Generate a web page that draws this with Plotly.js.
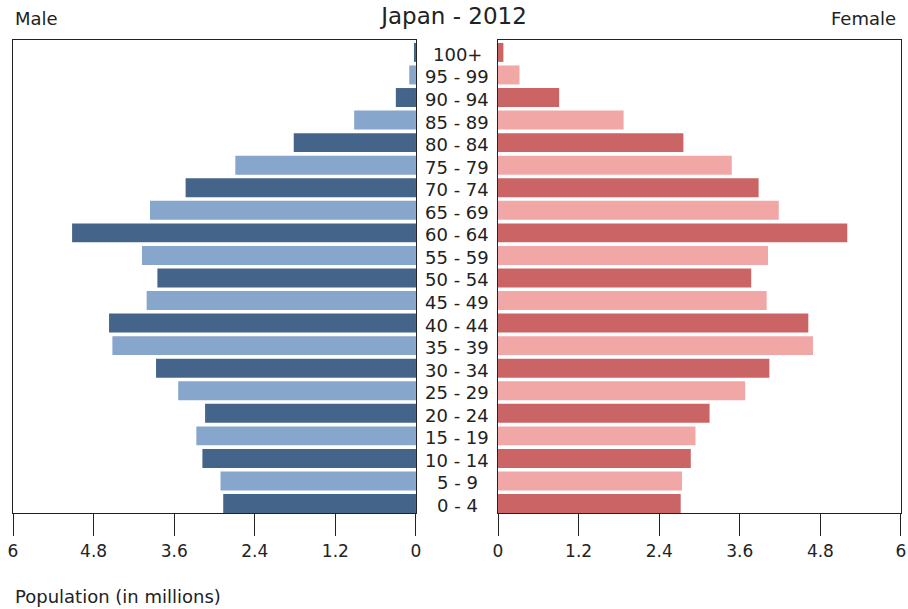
<!DOCTYPE html>
<html>
<head>
<meta charset="utf-8">
<script src="https://cdn.plot.ly/plotly-3.0.1.min.js"></script>
<style>html,body{margin:0;padding:0;background:#fff;}#chart{width:908px;height:609px;}</style>
</head>
<body>
<div id="chart"></div>
<script>
const ageGroups = ["0 - 4","5 - 9","10 - 14","15 - 19","20 - 24","25 - 29","30 - 34","35 - 39","40 - 44","45 - 49","50 - 54","55 - 59","60 - 64","65 - 69","70 - 74","75 - 79","80 - 84","85 - 89","90 - 94","95 - 99","100+"];
const maleValues = [2.87,2.91,3.18,3.27,3.14,3.54,3.87,4.52,4.57,4.01,3.85,4.08,5.12,3.96,3.43,2.69,1.82,0.92,0.30,0.10,0.03];
const femaleValues = [2.72,2.74,2.87,2.94,3.15,3.68,4.04,4.69,4.62,4.00,3.77,4.02,5.20,4.18,3.88,3.48,2.76,1.87,0.91,0.32,0.08];
const tickVals = [0,1.2,2.4,3.6,4.8,6];
const tickText = ["0","1.2","2.4","3.6","4.8","6"];

const maleColors = ageGroups.map((_, i) => i % 2 === 0 ? "#446489" : "#86a6cc");
const femaleColors = ageGroups.map((_, i) => i % 2 === 0 ? "#cb6464" : "#f2a7a7");

const font = "DejaVu Sans, sans-serif";
const txt = "#222";

const traces = [
  {type:"bar", orientation:"h", y:ageGroups, x:maleValues, xaxis:"x", yaxis:"y",
   marker:{color:maleColors}, hoverinfo:"x+y", showlegend:false},
  {type:"bar", orientation:"h", y:ageGroups, x:femaleValues, xaxis:"x2", yaxis:"y2",
   marker:{color:femaleColors}, hoverinfo:"x+y", showlegend:false}
];

const axisCommon = {
  tickvals: tickVals, ticktext: tickText, ticks:"outside", ticklen:22, tickwidth:1, tickcolor:txt,
  showline:true, linecolor:txt, linewidth:1.2, mirror:true, showgrid:false, zeroline:false,
  tickfont:{family:font, size:17, color:txt}, fixedrange:true
};
const yCommon = {
  type:"category", categoryorder:"array", categoryarray:ageGroups, range:[-0.42,20.55],
  showticklabels:false, ticks:"", showgrid:false, zeroline:false,
  showline:true, linecolor:txt, linewidth:1.2, mirror:true, fixedrange:true
};

const annotations = ageGroups.map(a => ({
  text:a, x:0.5, xref:"paper", y:a, yref:"y", xanchor:"center", yanchor:"middle", yshift:-2,
  showarrow:false, font:{family:font, size:18, color:txt}
}));
annotations.push(
  {text:"Male", x:0, xref:"paper", y:1, yref:"paper", xanchor:"left", yanchor:"middle", yshift:22,
   showarrow:false, font:{family:font, size:18, color:txt}},
  {text:"Female", x:1, xref:"paper", y:1, yref:"paper", xanchor:"right", yanchor:"middle", yshift:22, xshift:-3,
   showarrow:false, font:{family:font, size:18, color:txt}},
  {text:"Population (in millions)", x:0, xref:"paper", y:0, yref:"paper", xanchor:"left", yanchor:"middle", yshift:-83,
   showarrow:false, font:{family:font, size:18, color:txt}}
);

const layout = {
  width:908, height:609,
  margin:{l:13, r:7, t:40, b:96},
  paper_bgcolor:"#fff", plot_bgcolor:"#fff",
  title:{text:"Japan - 2012", x:0.5, xanchor:"center", y:0.974, yanchor:"middle",
         font:{family:font, size:23, color:txt}},
  bargap:0.16,
  xaxis:Object.assign({}, axisCommon, {domain:[0,0.4538], range:[6,0], anchor:"y"}),
  xaxis2:Object.assign({}, axisCommon, {domain:[0.5462,1], range:[0,6], anchor:"y2"}),
  yaxis:Object.assign({}, yCommon, {anchor:"x"}),
  yaxis2:Object.assign({}, yCommon, {anchor:"x2"}),
  annotations:annotations
};

Plotly.newPlot("chart", traces, layout, {displayModeBar:false, staticPlot:true});
</script>
</body>
</html>
